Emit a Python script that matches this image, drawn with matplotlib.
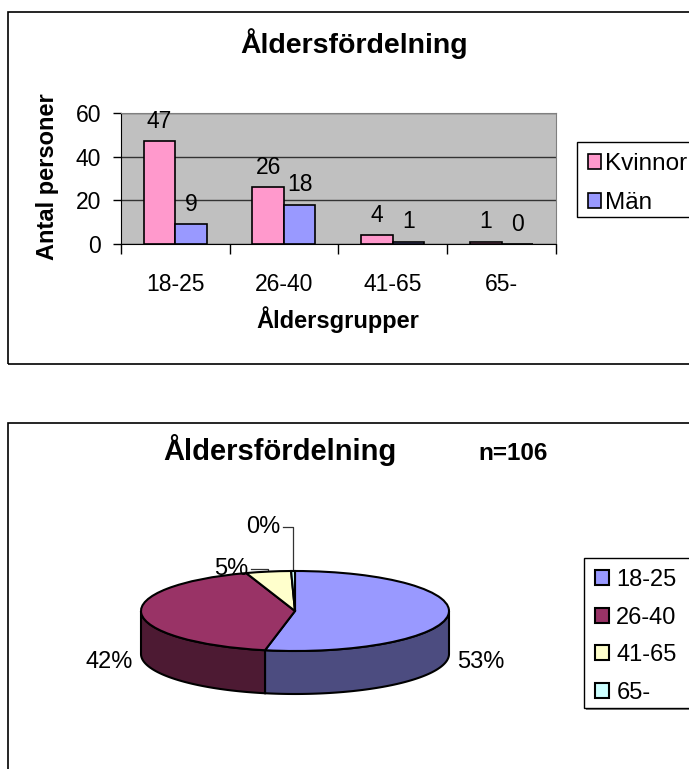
import matplotlib

matplotlib.use("Agg")
import matplotlib.pyplot as plt  # noqa: E402
import numpy as np  # noqa: E402
from matplotlib.patches import Polygon, Rectangle  # noqa: E402

plt.rcParams["font.family"] = ["Liberation Sans", "DejaVu Sans"]

W, H = 689, 769  # canvas in pixels

age_groups = ["18-25", "26-40", "41-65", "65-"]
kvinnor = [47, 26, 4, 1]
man = [9, 18, 1, 0]
pie_share = [52.8, 41.5, 4.7, 0.4]   # % of respondents per age group
n_total = 106

KVINNOR_COLOR = "#FF99CC"
MAN_COLOR = "#9999FF"
PIE_TOP = ["#9999FF", "#993366", "#FFFFCC", "#CCFFFF"]
PIE_SIDE = ["#4C4C80", "#4D1A33", "#80806A", "#6A8080"]


def fx(px):
    return px / W


def fy(py):
    return 1 - py / H


def px_box(x0, y0, x1, y1, **kw):
    """Rectangle given in canvas pixels (y downwards)."""
    fig.add_artist(Rectangle((fx(x0), fy(y1)), (x1 - x0) / W, (y1 - y0) / H,
                             transform=fig.transFigure, **kw))


fig = plt.figure(figsize=(W / 100, H / 100), dpi=100)

# chart frames (both run off the right / bottom edge)
px_box(8, 12, 730, 364, fill=False, ec="black", lw=1.2)
px_box(8, 423, 730, 800, fill=False, ec="black", lw=1.2)

# ---- 1) clustered bars: women / men per age group
ax = fig.add_axes([fx(120.7), fy(244), (556 - 120.7) / W, (244 - 113) / H])
ax.set_facecolor("#C0C0C0")
x = np.arange(len(age_groups))
bw = 0.29
b1 = ax.bar(x - bw / 2, kvinnor, bw, color=KVINNOR_COLOR, edgecolor="black",
            linewidth=1.2, label="Kvinnor", zorder=3)
b2 = ax.bar(x + bw / 2, man, bw, color=MAN_COLOR, edgecolor="black",
            linewidth=1.2, label="Män", zorder=3)
for bars in (b1, b2):
    ax.bar_label(bars, padding=6, fontsize=16.5)

ax.set_xlim(-0.5, 3.5)
ax.set_ylim(0, 60)
ax.set_yticks([0, 20, 40, 60])
ax.yaxis.grid(True, color="#333333", lw=1)
ax.set_axisbelow(True)
ax.set_xticks(x, age_groups)
ax.set_xticks(np.arange(-0.5, 4, 1), minor=True)
ax.tick_params(axis="x", which="major", length=0, pad=21, labelsize=16.5)
ax.tick_params(axis="x", which="minor", length=7, width=1)
ax.tick_params(axis="y", length=6, width=1, pad=8, labelsize=16.5)
for side in ("top", "right"):
    ax.spines[side].set_color("#808080")

fig.text(fx(354.5), fy(53), "Åldersfördelning", ha="center", va="baseline",
         fontsize=20.5, fontweight="bold")
fig.text(fx(48), fy(177), "Antal personer", rotation=90, ha="center",
         va="center", fontsize=17, fontweight="bold")
fig.text(fx(338), fy(320), "Åldersgrupper", ha="center", va="center",
         fontsize=17, fontweight="bold")

px_box(577, 142, 730, 217, fc="white", ec="black", lw=1, zorder=-1)
ax.legend(loc="upper left", bbox_to_anchor=(fx(577), fy(142)),
          bbox_transform=fig.transFigure, fontsize=17.5, frameon=False,
          borderaxespad=0, borderpad=0.45, labelspacing=0.7,
          handlelength=0.55, handleheight=0.55, handletextpad=0.15)

# ---- 2) 3-D style pie of the age distribution
RX, RY, DEPTH, CX, CY = 154, 40, 43, 295, 611
pax = fig.add_axes([fx(60), fy(720), 470 / W, 220 / H])
wedges, _ = pax.pie(pie_share, colors=PIE_TOP, startangle=90,
                    counterclock=False,
                    wedgeprops=dict(edgecolor="black", linewidth=1.5))
pax.set_aspect("auto")
pax.set_xlim((60 - CX) / RX, (530 - CX) / RX)
pax.set_ylim((CY - 720) / RY, (CY - 500) / RY)
pax.axis("off")

depth = DEPTH / RY
for w, c in zip(wedges, PIE_SIDE):
    for off in (-360, 0, 360):
        a = max(w.theta1, 180 + off)
        b = min(w.theta2, 360 + off)
        if a >= b:
            continue
        t = np.radians(np.linspace(a, b, 80))
        top = np.c_[np.cos(t), np.sin(t)]
        bottom = np.c_[np.cos(t[::-1]), np.sin(t[::-1]) - depth]
        pax.add_patch(Polygon(np.vstack([top, bottom]), closed=True, fc=c,
                              ec="black", lw=1.5, zorder=0.5))

pcts = [v / sum(pie_share) * 100 for v in pie_share]
label_pos = [(1.053, -1.275, "left"), (-1.052, -1.275, "right"),
             (-0.305, 1.05, "right"), (-0.097, 2.1, "right")]
for i, (w, p) in enumerate(zip(wedges, pcts)):
    lx, ly, ha = label_pos[i]
    pax.text(lx, ly, f"{p:.0f}%", ha=ha, va="center", fontsize=17)
    if i >= 2:
        m = np.radians((w.theta1 + w.theta2) / 2)
        pax.plot([lx + 0.02, np.cos(m), np.cos(m)], [ly, ly, np.sin(m)],
                 color="#333333", lw=0.9, zorder=0.4)

fig.text(fx(280), fy(460), "Åldersfördelning", ha="center", va="baseline",
         fontsize=21, fontweight="bold")
fig.text(fx(478), fy(460), f"n={n_total}", ha="left", va="baseline",
         fontsize=17.5, fontweight="bold")

# legend frame with a thin drop shadow underneath
px_box(586, 560, 730, 710, fc="#808080", ec="none", zorder=-2)
px_box(584, 558, 730, 708, fc="white", ec="black", lw=1, zorder=-1)
pax.legend(wedges, age_groups, loc="upper left",
           bbox_to_anchor=(fx(584), fy(558)),
           bbox_transform=fig.transFigure, fontsize=17, frameon=False,
           borderaxespad=0, borderpad=0.47, labelspacing=0.66,
           handlelength=0.6, handleheight=0.6, handletextpad=0.3)

fig.savefig("out.png", dpi=100, facecolor="white")
